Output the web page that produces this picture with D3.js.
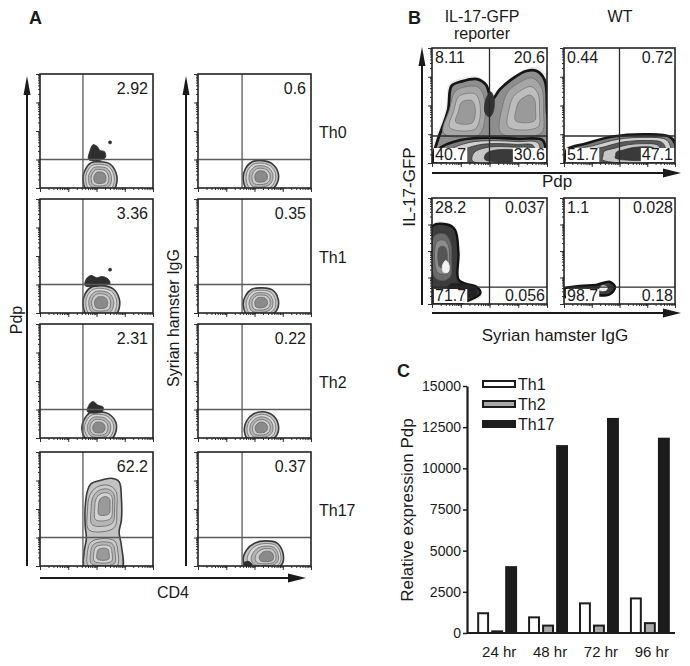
<!DOCTYPE html>
<html>
<head>
<meta charset="utf-8">
<script src="https://cdn.jsdelivr.net/npm/d3@7"></script>
<style>
  body { margin: 0; background: #fff; }
  svg text { font-family: "Liberation Sans", Arial, sans-serif; fill: #1a1a1a; }
</style>
</head>
<body>
<script>
// ---- panel A data: Pdp / Syrian hamster IgG vs CD4 ----
const rowsA = ["Th0", "Th1", "Th2", "Th17"];
const pdpPctA = ["2.92", "3.36", "2.31", "62.2"];
const iggPctA = ["0.6", "0.35", "0.22", "0.37"];

// outlines of populations in plot units (0-100 on both axes), core = where contours shrink to
const pdpShapesA = [
  [{core: [53, 9], n: 5, pts: [[38, 8], [40, 16], [45, 22], [53, 23], [62, 21], [67, 14], [68, 5], [64, -3], [42, -3]]},
   {solid: "#2e2e2e", pts: [[43, 25], [44, 32], [47, 38], [51, 36], [53, 33], [57, 32], [58, 27], [52, 24]]},
   {solid: "#2e2e2e", pts: [[61, 39], [63, 39], [63, 41], [61, 41]]}],
  [{core: [54, 9], n: 5, pts: [[38, 8], [40, 17], [46, 23], [55, 24], [65, 21], [70, 13], [70, 4], [66, -3], [42, -3]]},
   {solid: "#2e2e2e", pts: [[40, 24], [41, 30], [45, 33], [50, 31], [55, 32], [60, 30], [62, 26], [55, 24]]},
   {solid: "#2e2e2e", pts: [[61, 37], [63, 37], [63, 39], [61, 39]]}],
  [{core: [52, 9], n: 5, pts: [[37, 8], [39, 16], [44, 22], [52, 23], [61, 21], [67, 14], [67, 5], [62, -2], [42, -2]]},
   {solid: "#2e2e2e", pts: [[42, 23], [44, 30], [47, 32], [51, 29], [56, 27], [55, 23]]}],
  [{core: [56, 38], n: 1, pts: [[40, -3], [39, 12], [41, 24], [40, 35], [40, 52], [42, 66], [45, 72], [53, 75], [63, 77], [70, 74], [72, 60], [72, 40], [70, 30], [72, 18], [72, -3]]},
   {core: [58, 54], n: 4, pal: "ring", pts: [[43, 32], [42, 48], [44, 62], [50, 69], [60, 71], [67, 66], [68, 50], [66, 34], [55, 30]]},
   {core: [56, 10], n: 4, pal: "ring", pts: [[43, 0], [42, 12], [45, 21], [55, 24], [66, 22], [69, 12], [68, 0]]}]
];
const iggShapesA = [
  [{core: [56, 10], n: 5, pts: [[40, 8], [42, 17], [48, 23], [57, 24], [66, 21], [71, 13], [70, 4], [64, -2], [44, -2]]}],
  [{core: [56, 9], n: 5, pts: [[40, 7], [42, 15], [48, 21], [57, 22], [66, 20], [71, 12], [70, 3], [64, -2], [44, -2]]}],
  [{core: [56, 9], n: 5, pts: [[41, 6], [43, 15], [49, 21], [57, 23], [66, 20], [71, 12], [70, 3], [64, -2], [45, -2]]}],
  [{core: [62, 8], n: 5, pts: [[40, 5], [43, 14], [50, 20], [60, 22], [70, 20], [75, 12], [75, 3], [70, -2], [44, -2]]},
   {solid: "#2e2e2e", pts: [[41, -1], [41, 3], [45, 4], [48, 1], [46, -1]]}]
];

// ---- panel B data: IL-17-GFP vs Pdp / IgG, quadrants UL, UR, LL, LR ----
const colsB = ["IL-17-GFP", "WT"];
const pdpPctB = [["8.11", "20.6", "40.7", "30.6"], ["0.44", "0.72", "51.7", "47.1"]];
const iggPctB = [["28.2", "0.037", "71.7", "0.056"], ["1.1", "0.028", "98.7", "0.18"]];
const pdpShapesB = [
  [{core: [52, 30], n: 1, halo: true, pts: [[1, -2], [1, 6], [5, 20], [14, 46], [17, 67], [26, 71], [39, 73], [47, 68], [52, 55], [59, 64], [71, 74], [82, 80], [91, 80], [98, 72], [100, 46], [100, -2]]},
   {core: [30, 44], n: 3, pal: "mid", pts: [[10, 26], [15, 46], [20, 62], [28, 66], [40, 66], [45, 58], [46, 38], [40, 24]]},
   {solid: "#333", pts: [[46, 44], [47, 56], [51, 62], [54, 56], [53, 44], [50, 40]]},
   {core: [84, 46], n: 3, pal: "mid", pts: [[60, 26], [61, 48], [66, 62], [76, 70], [87, 74], [95, 66], [97, 44], [95, 26]]},
   {core: [70, 6], n: 5, pal: "band", pts: [[3, -2], [6, 12], [25, 20], [50, 22], [75, 21], [96, 20], [99, 10], [98, -2]]}],
  [{core: [72, 8], n: 5, halo: true, pal: "band", pts: [[0, -2], [1, 4], [3, 12], [20, 17], [44, 23], [74, 25], [95, 23], [100, 17], [100, -2]]}]
];
const iggShapesB = [
  [{core: [12, 38], n: 1, halo: true, pal: "dark", pts: [[0, 73], [13, 75], [20, 70], [23, 48], [23, 23], [30, 19], [39, 16], [42, 10], [33, 4], [0, -2]]},
   {core: [10, 44], n: 3, pal: "darkin", pts: [[2, 64], [11, 66], [16, 58], [17, 40], [16, 26], [9, 22], [2, 26]]},
   {solid: "#f2f2f2", pts: [[10, 30], [14, 30], [15, 36], [12, 41], [9, 36]]},
   {solid: "#222", pts: [[14, 8], [15, 18], [28, 19], [38, 15], [39, 9], [30, 6]]}],
  [{core: [36, 14], n: 1, halo: true, pal: "dark", pts: [[0, 7], [0, 14], [14, 17], [29, 18], [41, 21], [46, 16], [41, 9], [20, 8.5]]},
   {solid: "#f2f2f2", pts: [[32, 13], [38, 13], [39, 16], [34, 17]]}]
];

// ---- panel C data: relative expression of Pdp ----
const times = ["24 hr", "48 hr", "72 hr", "96 hr"];
const seriesC = ["Th1", "Th2", "Th17"];
const th1 = [1200, 950, 1800, 2100];
const th2 = [100, 450, 450, 600];
const th17 = [4000, 11350, 13000, 11800];
const yTicksC = [0, 2500, 5000, 7500, 10000, 12500, 15000];

const W = 690, H = 666;
const svg = d3.select("body").append("svg").attr("width", W).attr("height", H);
const line = d3.line().curve(d3.curveCatmullRomClosed.alpha(0.5));

const palettes = {
  A: {fills: ["#c2c2c2", "#d6d6d6", "#b4b4b4", "#cdcdcd", "#8a8a8a"], edge: "#3a3a3a", ring: "#6a6a6a", edgeW: 1.6},
  ring: {fills: ["#cacaca", "#b6b6b6", "#d2d2d2", "#9a9a9a"], edge: "#6a6a6a", ring: "#6a6a6a", edgeW: 0.9},
  B: {fills: ["#8e8e8e"], edge: "#161616", ring: "#444", edgeW: 2.8},
  mid: {fills: ["#a6a6a6", "#bdbdbd", "#9a9a9a"], edge: "#707070", ring: "#777", edgeW: 0.8},
  band: {fills: ["#7a7a7a", "#d0d0d0", "#5a5a5a", "#c6c6c6", "#3a3a3a"], edge: "#161616", ring: "#333", edgeW: 2.6},
  dark: {fills: ["#3c3c3c"], edge: "#111", ring: "#111", edgeW: 2.4},
  darkin: {fills: ["#6a6a6a", "#8c8c8c", "#555"], edge: "#555", ring: "#555", edgeW: 0.8}
};

let clipN = 0;

function drawPop(g, xs, ys, pop, defPal) {
  if (pop.solid) {
    g.append("path").attr("d", line(pop.pts.map(p => [xs(p[0]), ys(p[1])])))
      .attr("fill", pop.solid).attr("stroke", pop.solid).attr("stroke-width", 0.8);
    return;
  }
  const pal = palettes[pop.pal || defPal];
  const shrink = f => pop.pts.map(p => [
    xs(pop.core[0] + (p[0] - pop.core[0]) * f),
    ys(pop.core[1] + (p[1] - pop.core[1]) * f)]);
  if (pop.halo) {
    g.append("path").attr("d", line(shrink(1.06))).attr("fill", "#ececec").attr("stroke", "none");
  }
  for (let k = 0; k < pop.n; k++) {
    const f = 1 - k * 0.8 / pop.n;
    g.append("path").attr("d", line(shrink(f)))
      .attr("fill", pal.fills[k % pal.fills.length])
      .attr("stroke", k === 0 ? pal.edge : pal.ring)
      .attr("stroke-width", k === 0 ? pal.edgeW : 0.8);
  }
}

function flowBox(x0, y0, w, h, gx, gy, pops, defPal, gateColor) {
  const xs = d3.scaleLinear().domain([0, 100]).range([x0, x0 + w]);
  const ys = d3.scaleLinear().domain([0, 100]).range([y0 + h, y0]);
  const id = "clip" + (clipN++);
  svg.append("clipPath").attr("id", id).append("rect")
    .attr("x", x0).attr("y", y0).attr("width", w).attr("height", h);
  const g = svg.append("g").attr("clip-path", "url(#" + id + ")");
  pops.forEach(p => drawPop(g, xs, ys, p, defPal));

  g.append("line").attr("x1", xs(gx)).attr("x2", xs(gx)).attr("y1", y0).attr("y2", y0 + h)
    .attr("stroke", gateColor).attr("stroke-width", 1.3);
  g.append("line").attr("x1", x0).attr("x2", x0 + w).attr("y1", ys(gy)).attr("y2", ys(gy))
    .attr("stroke", gateColor).attr("stroke-width", 1.3);

  // log decade ticks on left and bottom edges
  const lx = d3.scaleLog().domain([1, 1e4]).range([x0, x0 + w]);
  const ly = d3.scaleLog().domain([1, 1e4]).range([y0 + h, y0]);
  const minor = lx.ticks(), major = [1, 10, 100, 1000, 10000];
  [[minor, 2], [major, 4]].forEach(([vals, sz]) => {
    svg.append("g").attr("transform", "translate(0," + (y0 + h) + ")")
      .call(d3.axisBottom(lx).tickValues(vals).tickSize(sz).tickFormat(""))
      .call(a => a.select(".domain").remove())
      .selectAll("line").attr("stroke", "#333");
    svg.append("g").attr("transform", "translate(" + x0 + ",0)")
      .call(d3.axisLeft(ly).tickValues(vals).tickSize(sz).tickFormat(""))
      .call(a => a.select(".domain").remove())
      .selectAll("line").attr("stroke", "#333");
  });

  svg.append("rect").attr("x", x0).attr("y", y0).attr("width", w).attr("height", h)
    .attr("fill", "none").attr("stroke", "#222").attr("stroke-width", 1.6);
}

function txt(x, y, s, size, anchor, opts = {}) {
  const t = svg.append("text").attr("x", x).attr("y", y).text(s)
    .attr("font-size", size).attr("text-anchor", anchor || "start");
  if (opts.bold) t.attr("font-weight", "bold");
  if (opts.rotate) t.attr("x", null).attr("y", null)
    .attr("transform", "translate(" + x + "," + y + ") rotate(-90)");
  if (opts.bg) {
    const bb = t.node().getBBox();
    svg.insert("rect", () => t.node()).attr("x", bb.x - 1).attr("y", bb.y + 2)
      .attr("width", bb.width + 2).attr("height", bb.height - 3).attr("fill", "#fff");
  }
  return t;
}

function arrowV(x, yTop, yBot) {
  svg.append("line").attr("x1", x).attr("x2", x).attr("y1", yTop + 10).attr("y2", yBot)
    .attr("stroke", "#1a1a1a").attr("stroke-width", 2);
  svg.append("path").attr("d", `M${x},${yTop} L${x - 3.5},${yTop + 19} L${x + 3.5},${yTop + 19} Z`).attr("fill", "#1a1a1a");
}
function arrowH(y, xL, xR) {
  svg.append("line").attr("x1", xL).attr("x2", xR - 10).attr("y1", y).attr("y2", y)
    .attr("stroke", "#1a1a1a").attr("stroke-width", 2);
  svg.append("path").attr("d", `M${xR},${y} L${xR - 18},${y - 4.5} L${xR - 18},${y + 4.5} Z`).attr("fill", "#1a1a1a");
}

// ---------------- Panel A ----------------
txt(29, 24, "A", 18, "start", {bold: true});
const aTops = [74, 199, 324, 452], aH = 114, aW = 113;
rowsA.forEach((r, i) => {
  flowBox(40, aTops[i], aW, aH, 38, 25, pdpShapesA[i], "A", "#5a5a5a");
  flowBox(198, aTops[i], aW, aH, 39, 25, iggShapesA[i], "A", "#5a5a5a");
  txt(148, aTops[i] + 20, pdpPctA[i], 16, "end");
  txt(306, aTops[i] + 20, iggPctA[i], 16, "end");
  txt(319, aTops[i] + 64, r, 16, "start");
});
arrowV(27, 76, 566);
arrowV(186, 76, 566);
arrowH(578, 40, 306);
txt(22, 320, "Pdp", 16, "middle", {rotate: true});
txt(179, 318, "Syrian hamster IgG", 16, "middle", {rotate: true});
txt(173, 598, "CD4", 16, "middle");

// ---------------- Panel B ----------------
txt(408, 24, "B", 18, "start", {bold: true});
txt(482, 22, "IL-17-GFP", 16, "middle");
txt(482, 39, "reporter", 16, "middle");
txt(620, 22, "WT", 16, "middle");
const bX = [432, 564], bW = [115, 111];
const bTop = [48, 198], bH = [115, 106], bGateY = [23.5, 16];
[pdpPctB, iggPctB].forEach((pcts, row) => {
  const shapes = row === 0 ? pdpShapesB : iggShapesB;
  colsB.forEach((c, j) => {
    flowBox(bX[j], bTop[row], bW[j], bH[row], 50, bGateY[row], shapes[j], "B", "#2a2a2a");
    const x0 = bX[j], x1 = bX[j] + bW[j], y0 = bTop[row], y1 = bTop[row] + bH[row];
    txt(x0 + 3, y0 + 15, pcts[j][0], 16, "start", {bg: true});
    txt(x1 - 2, y0 + 15, pcts[j][1], 16, "end", {bg: true});
    txt(x0 + 3, y1 - 3, pcts[j][2], 16, "start", {bg: true});
    txt(x1 - 2, y1 - 3, pcts[j][3], 16, "end", {bg: true});
  });
});
arrowV(422, 47, 305);
arrowH(173, 432, 681);
arrowH(313, 432, 681);
txt(557, 187, "Pdp", 17, "middle");
txt(555, 341, "Syrian hamster IgG", 17, "middle");
txt(415, 187, "IL-17-GFP", 17, "middle", {rotate: true});

// ---------------- Panel C ----------------
txt(397, 377, "C", 18, "start", {bold: true});
const x0C = 467, yBase = 633;
const y = d3.scaleLinear().domain([0, 15000]).range([yBase, 386]);
const x = d3.scaleBand().domain(times).range([467, 680]).paddingInner(0.216).paddingOuter(0.2);
const xs2 = d3.scaleBand().domain(seriesC).range([0, x.bandwidth()]).paddingInner(0.15);
const values = {Th1: th1, Th2: th2, Th17: th17};
const fillC = {Th1: "#fff", Th2: "#a8a8a8", Th17: "#1c1c1c"};

const gBars = svg.append("g");
times.forEach((t, i) => {
  seriesC.forEach(s => {
    const v = values[s][i];
    gBars.append("rect")
      .attr("x", x(t) + xs2(s) + 1).attr("y", y(v))
      .attr("width", xs2.bandwidth() - 2).attr("height", yBase - y(v))
      .attr("fill", fillC[s]).attr("stroke", "#1c1c1c").attr("stroke-width", 2);
  });
});

svg.append("g").attr("transform", "translate(" + x0C + ",0)")
  .call(d3.axisLeft(y).tickValues(yTicksC).tickFormat(d3.format("d")).tickSize(4).tickPadding(2).tickSizeOuter(0))
  .call(a => a.select(".domain").attr("stroke", "#1c1c1c").attr("stroke-width", 2.2))
  .call(a => a.selectAll(".tick line").attr("stroke", "#1c1c1c").attr("stroke-width", 1.5))
  .call(a => a.selectAll("text").attr("font-size", 14).attr("font-family", "Liberation Sans, Arial, sans-serif").attr("fill", "#1a1a1a"));

svg.append("g").attr("transform", "translate(0," + yBase + ")")
  .call(d3.axisBottom(x).tickSize(0).tickPadding(13))
  .call(a => a.select(".domain").remove())
  .call(a => a.selectAll("text").attr("font-size", 15).attr("dx", 2).attr("font-family", "Liberation Sans, Arial, sans-serif").attr("fill", "#1a1a1a"));
svg.append("line").attr("x1", x0C).attr("x2", 675).attr("y1", yBase).attr("y2", yBase)
  .attr("stroke", "#1c1c1c").attr("stroke-width", 2.2);

txt(413, 510, "Relative expression Pdp", 17, "middle", {rotate: true});

// legend
const legY = d3.scalePoint().domain(seriesC).range([384, 424]);
seriesC.forEach(s => {
  svg.append("rect").attr("x", 483).attr("y", legY(s) - 3).attr("width", 32).attr("height", 6)
    .attr("fill", fillC[s]).attr("stroke", "#1c1c1c").attr("stroke-width", 2);
  txt(518, legY(s) + 6, s, 16, "start");
});
</script>
</body>
</html>
